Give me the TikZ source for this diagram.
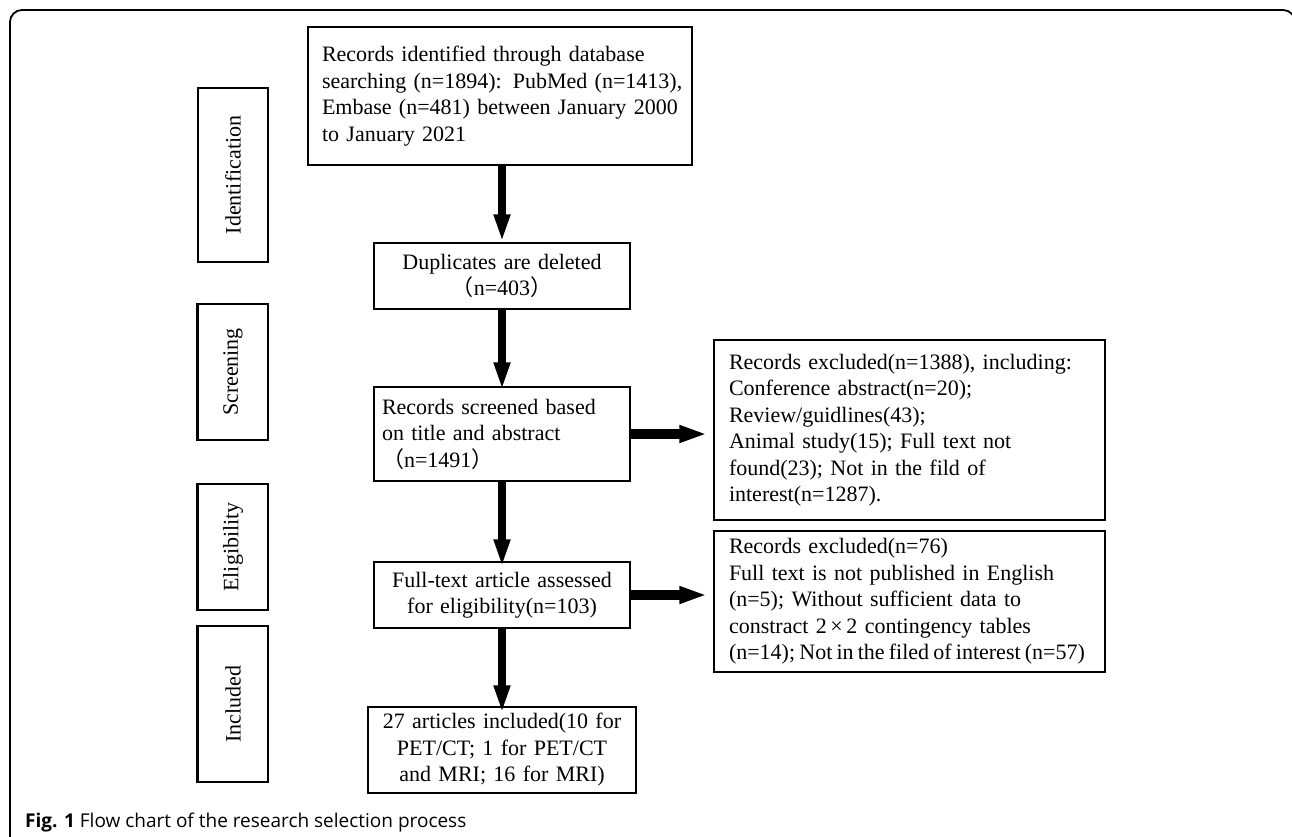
\documentclass[tikz,border=0pt]{standalone}
\usepackage{fontspec}
\setmainfont{Liberation Serif}
\newfontfamily\capfont{Open Sans}
\newfontfamily\cjk{Noto Sans CJK SC}
\usetikzlibrary{arrows.meta}
\newcommand{\lp}{{\cjk （}}
\newcommand{\rp}{{\cjk ）}}
\begin{document}
\begin{tikzpicture}[x=1pt,y=-1pt,
  box/.style={draw, line width=1.5pt, inner sep=0pt, font=\fontsize{22}{26.5}\selectfont},
  stagebox/.style={box, rotate=90, minimum height=70pt},
  varrow/.style={line width=8pt, -{Triangle[width=15pt,length=28pt]}},
  harrow/.style={line width=9.5pt, -{Triangle[width=16pt,length=28pt]}},
  shade/.style={line width=3pt}
]
\useasboundingbox (0,0) rectangle (1292,837);
\fill[white] (0,0) rectangle (1292,837);
\clip (0,0) rectangle (1292,837);
% outer frame
\draw[line width=1.8pt, rounded corners=12pt] (10,860) -- (10,10) -- (1295,10) -- (1295,860);

% stage labels
\node[stagebox, minimum width=174pt] (ident) at (233,175) {Identification};
\node[stagebox, minimum width=136pt] (scr) at (233,372) {Screening};
\node[stagebox, minimum width=126pt] (elig) at (233,547) {Eligibility};
\node[stagebox, minimum width=156pt] (incl) at (233,704) {Included};
\draw[shade] (scr.north west) -- (scr.north east);
\draw[shade] (elig.north west) -- (elig.north east);
\draw[shade] (incl.north west) -- (incl.north east);

% main column
\node[box, minimum width=384pt, minimum height=138pt, text width=356pt, align=left] (ids) at (500,96)
 {\mbox{Records identified through database}\\ \mbox{searching (n=1894): PubMed (n=1413),}\\ \mbox{Embase (n=481) between January 2000}\\ \mbox{to January 2021}};
\node[box, minimum width=256pt, minimum height=66pt, text width=240pt, align=center] (dup) at (502,276)
 {Duplicates are deleted\\ \lp n=403\rp};
\node[box, minimum width=256pt, minimum height=94pt, text width=240pt, align=left] (scrn) at (502,434)
 {Records screened based\\ on title and abstract\\ \lp n=1491\rp};
\node[box, minimum width=256pt, minimum height=66pt, text width=244pt, align=center] (full) at (502,595)
 {Full-text article assessed\\ for eligibility(n=103)};
\node[box, minimum width=268pt, minimum height=86pt, text width=256pt, align=center] (inc) at (502,750)
 {27 articles included(10 for\\ PET/CT; 1 for PET/CT\\ and MRI; 16 for MRI)};

% right column
\node[box, minimum width=391pt, minimum height=180pt, text width=361pt, align=left] (ex1) at (909.5,430)
 {\mbox{Records excluded(n=1388), including:}\\ \mbox{Conference abstract(n=20);}\\ \mbox{Review/guidlines(43);}\\ \mbox{Animal study(15); Full text not}\\ \mbox{found(23); Not in the fild of}\\ \mbox{interest(n=1287).}};
\node[box, minimum width=391pt, minimum height=141pt, text width=361pt, align=left] (ex2) at (909.5,601.5)
 {\mbox{Records excluded(n=76)}\\ \mbox{Full text is not published in English}\\ \mbox{(n=5); Without sufficient data to}\\ \mbox{constract 2\,×\,2 contingency tables}\\ \mbox{\spaceskip=0.19em (n=14); Not in the filed of interest (n=57)}};

% arrows
\draw[varrow] (ids.south -| dup.north) -- (dup.north);
\draw[varrow] (dup.south) -- ([yshift=-4pt]scrn.north);
\draw[varrow] (scrn.south) -- ([yshift=-6pt]full.north);
\draw[varrow] (full.south) -- ([yshift=-7pt]inc.north);
\draw[harrow] (scrn.east) -- ([xshift=-6pt]ex1.west |- scrn.east);
\draw[harrow] (full.east) -- ([xshift=-6pt]ex2.west |- full.east);

% caption
\node[anchor=base west, inner sep=0pt, font=\capfont\fontsize{19}{22}\selectfont] (cap) at (25,827)
 {\textbf{Fig. 1} Flow chart of the research selection process};
\end{tikzpicture}
\end{document}
